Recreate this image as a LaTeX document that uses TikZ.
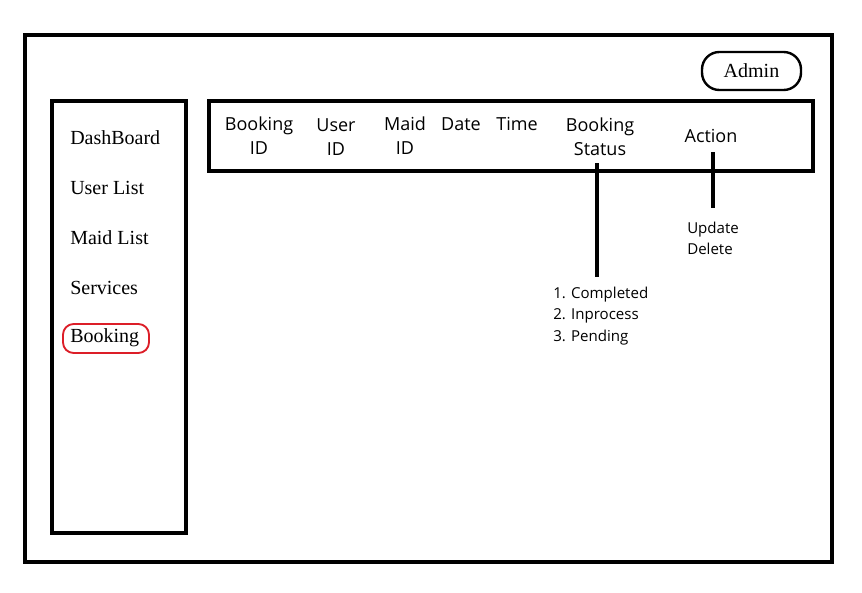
\documentclass[tikz,border=0pt]{standalone}
\usepackage{fontspec}
\setmainfont{Liberation Serif}
\newfontfamily\uisans{Open Sans}
\begin{document}
\begin{tikzpicture}[x=0.75pt,y=-0.75pt,
  frame/.style={draw=black,line width=3pt},
  panel/.style={draw=black,line width=2.4pt},
  side/.style={font=\fontsize{15}{18}\selectfont,anchor=west,inner sep=0pt},
  head/.style={font=\uisans\fontsize{13.5}{18}\selectfont,align=center,inner sep=0pt},
  lst/.style={font=\uisans\fontsize{11.3}{16.2}\selectfont,align=left,anchor=north west,inner sep=0pt},
  conn/.style={draw=black,line width=2.4pt}]
\useasboundingbox (0,0) rectangle (862,592);
% outer frame
\node[frame,minimum width=807*0.75pt,minimum height=527*0.75pt,inner sep=0pt] (outer) at (428.5,298.5) {};
% admin
\node[draw=black,line width=1.8pt,rounded corners=13pt,minimum width=99*0.75pt,minimum height=38*0.75pt,inner sep=0pt,font=\fontsize{15}{18}\selectfont] (admin) at (751.5,71) {Admin};
% sidebar
\node[panel,minimum width=134*0.75pt,minimum height=432*0.75pt,inner sep=0pt] (sidebar) at (119,317) {};
% header bar
\node[panel,minimum width=604*0.75pt,minimum height=70*0.75pt,inner sep=0pt] (header) at (511,136) {};
% sidebar items
\node[side] (dash) at (70,137.5) {DashBoard};
\node[side] (users) at (70,187.5) {User List};
\node[side] (maids) at (70,237.5) {Maid List};
\node[side] (serv) at (70,287.5) {Services};
\node[side] (book) at (70,337.5) {Booking};
\node[draw={rgb,255:red,220;green,30;blue,40},line width=1.4pt,rounded corners=8pt,minimum width=86*0.75pt,minimum height=29*0.75pt,inner sep=0pt] (bookmark) at (106,338.5) {};
% header columns
\node[head] (bid) at (259,136) {Booking\\ID};
\node[head] (uid) at (336,137) {User\\ID};
\node[head] (mid) at (405,136) {Maid\\ID};
\node[head] (date) at (461,124) {Date};
\node[head] (time) at (517,124) {Time};
\node[head] (bstat) at (600,136.5) {Booking\\Status};
\node[head] (act) at (711,136) {Action};
% lists
\node[lst] (statlist) at (553,286.5) {1. Completed\\2. Inprocess\\3. Pending};
\node[lst] (actlist) at (687,221.5) {Update\\Delete};
% connectors
\coordinate (s1) at (597,163);
\coordinate (s2) at (597,277);
\coordinate (a1) at (713,152);
\coordinate (a2) at (713,208);
\draw[conn] (s1) -- (s2);
\draw[conn] (a1) -- (a2);
\end{tikzpicture}
\end{document}
